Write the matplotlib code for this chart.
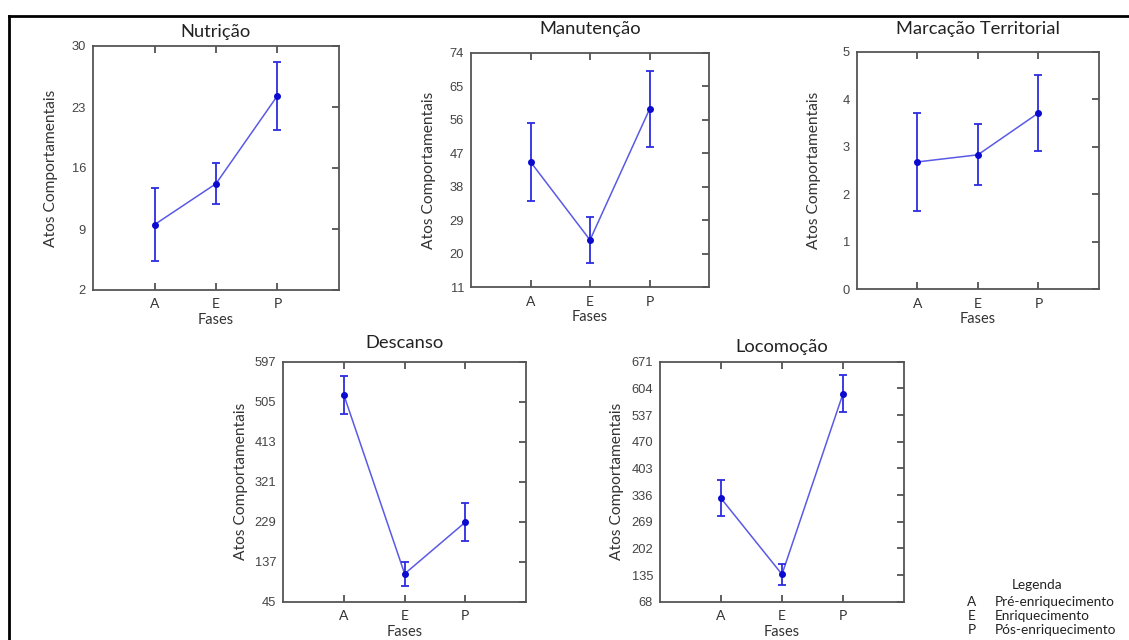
import matplotlib
matplotlib.use("Agg")
import matplotlib.pyplot as plt
from matplotlib.lines import Line2D

# ---- data ----
phases = ["A", "E", "P"]

titles = ["Nutrição", "Manutenção", "Marcação Territorial", "Descanso", "Locomoção"]

nutricao_mean = [9.5, 14.2, 24.3]
nutricao_err = [4.15, 2.37, 3.9]
nutricao_ticks = [2, 9, 16, 23, 30]

manutencao_mean = [44.7, 23.7, 58.8]
manutencao_err = [10.4, 6.2, 10.25]
manutencao_ticks = [11, 20, 29, 38, 47, 56, 65, 74]

marcacao_mean = [2.68, 2.83, 3.71]
marcacao_err = [1.03, 0.64, 0.81]
marcacao_ticks = [0, 1, 2, 3, 4, 5]

descanso_mean = [519.7, 108.7, 227.6]
descanso_err = [44.0, 27.6, 44.0]
descanso_ticks = [45, 137, 229, 321, 413, 505, 597]

locomocao_mean = [327.8, 136.8, 590.6]
locomocao_err = [45.0, 27.0, 46.0]
locomocao_ticks = [68, 135, 202, 269, 336, 403, 470, 537, 604, 671]

legend_title = "Legenda"
legend_codes = ["A", "E", "P"]
legend_names = ["Pré-enriquecimento", "Enriquecimento", "Pós-enriquecimento"]

means = [nutricao_mean, manutencao_mean, marcacao_mean, descanso_mean, locomocao_mean]
errs = [nutricao_err, manutencao_err, marcacao_err, descanso_err, locomocao_err]
yticks = [nutricao_ticks, manutencao_ticks, marcacao_ticks, descanso_ticks, locomocao_ticks]

# ---- layout (pixels: left, top, right, bottom) ----
W, H = 1129, 640
boxes = [(93, 46, 339, 290), (471, 52.7, 709, 287.3), (856.7, 51.7, 1099, 289.3),
         (283.3, 361.7, 526, 601.5), (660, 361.7, 904, 601.7)]
title_pads = [6.7, 13.5, 12.5, 9.6, 7.2]

label_font = ["Lato", "DejaVu Sans"]
tick_font = ["Liberation Sans", "DejaVu Sans"]

fig = plt.figure(figsize=(W / 100, H / 100), dpi=100)
fig.patch.set_facecolor("white")

line_color = "#5a5ae6"
err_color = "#2d2de0"
marker_color = "#0a0ad0"
spine_color = "#555555"

for i in range(5):
    l, t, r, b = boxes[i]
    ax = fig.add_axes([l / W, 1 - b / H, (r - l) / W, (b - t) / H])
    x = list(range(1, len(phases) + 1))
    ax.plot(x, means[i], color=line_color, lw=1.1, zorder=2)
    ax.errorbar(x, means[i], yerr=errs[i], fmt="o", color=marker_color, ecolor=err_color,
                elinewidth=1.3, capsize=2.8, capthick=1.3, markersize=4, zorder=3)
    ax.set_xlim(0, 4)
    ax.set_ylim(yticks[i][0], yticks[i][-1])
    ax.set_xticks(x)
    ax.set_xticklabels(phases)
    ax.set_yticks(yticks[i])
    ax.set_yticklabels([str(v) for v in yticks[i]])
    for s in ax.spines.values():
        s.set_color(spine_color)
        s.set_linewidth(1.3)
    ax.tick_params(axis="x", direction="in", top=True, bottom=True, length=5, width=1.2,
                   color="#444444", labelsize=10, labelcolor="#333333", pad=6)
    ax.tick_params(axis="y", direction="in", left=False, right=True, length=5, width=1.2,
                   color="#444444", labelsize=9.3, labelcolor="#444444", pad=5)
    for lab in ax.get_xticklabels():
        lab.set_family(label_font)
    for lab in ax.get_yticklabels():
        lab.set_family(tick_font)
    ax.set_title(titles[i], family=label_font, fontsize=13.2, color="#222222", pad=title_pads[i])
    ax.set_xlabel("Fases", family=label_font, fontsize=10.5, color="#333333", labelpad=2)
    ax.set_ylabel("Atos Comportamentais", family=label_font, fontsize=11.2, color="#333333")
    ax.yaxis.set_label_coords(-35.5 / (r - l), 0.5)

# outer frame lines (top and left)
fig.add_artist(Line2D([9 / W, 1], [1 - 16 / H, 1 - 16 / H], transform=fig.transFigure,
                      color="black", lw=2))
fig.add_artist(Line2D([9 / W, 9 / W], [0, 1 - 16 / H], transform=fig.transFigure,
                      color="black", lw=2))

# legend text
fig.text(1037 / W, 1 - 585 / H, legend_title, family=label_font, fontsize=9.8,
         color="#222222", ha="center", va="center")
for k in range(len(legend_codes)):
    yk = 1 - (602 + 13.8 * k) / H
    fig.text(972 / W, yk, legend_codes[k], family=label_font, fontsize=9.8,
             color="#222222", ha="center", va="center")
    fig.text(995 / W, yk, legend_names[k], family=label_font, fontsize=9.8,
             color="#222222", ha="left", va="center")

fig.savefig("out.png", dpi=100)
